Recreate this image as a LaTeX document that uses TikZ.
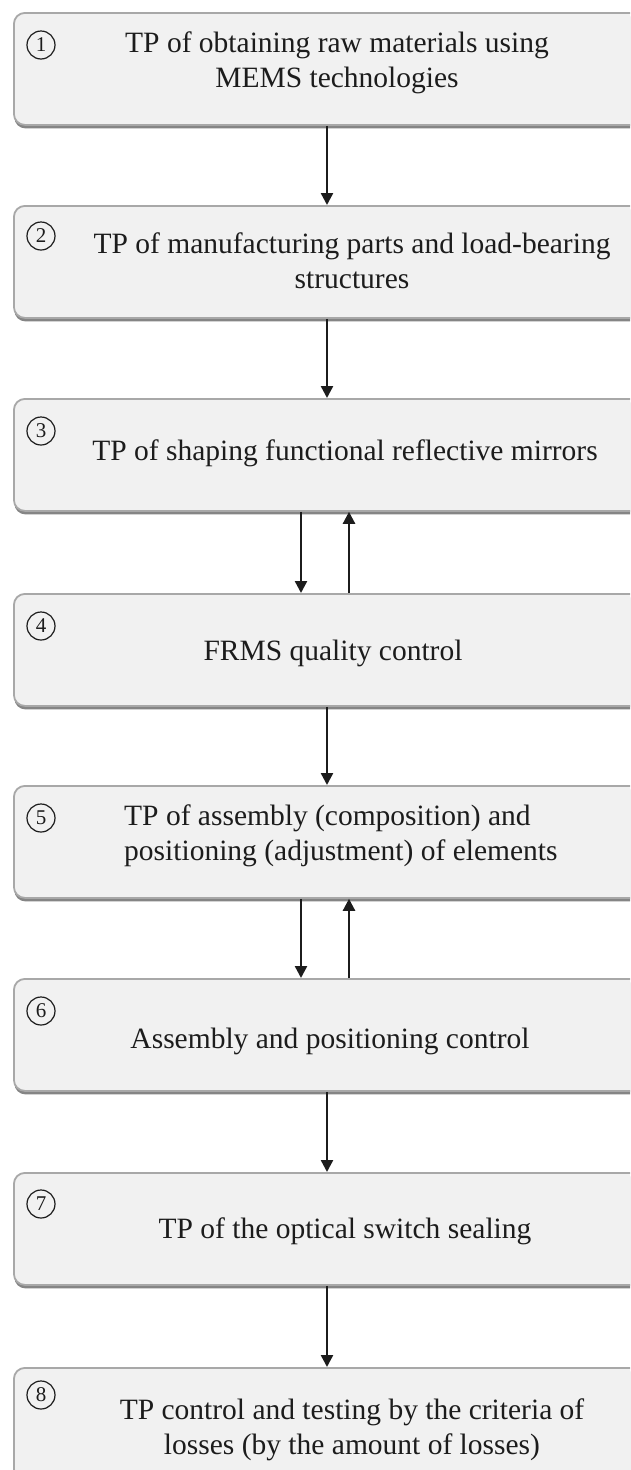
\documentclass[tikz,border=0pt]{standalone}
\usepackage{fontspec}
\setmainfont{Liberation Serif}
\usetikzlibrary{arrows.meta,shadows}
\definecolor{boxfill}{HTML}{F1F1F1}
\definecolor{boxline}{HTML}{A8A8A8}
\definecolor{shadowc}{HTML}{858585}
\definecolor{ink}{HTML}{1C1C1C}
\begin{document}
\begin{tikzpicture}[x=1pt,y=-1pt,
  stagebox/.style={draw=boxline, line width=1.8pt, fill=boxfill, rounded corners=11pt,
    minimum width=660pt, minimum height=112pt, anchor=north west, inner sep=0pt,
    drop shadow={shadow xshift=0.5pt, shadow yshift=-3.5pt, fill=shadowc, opacity=1}},
  stagetext/.style={font=\fontsize{29.5}{35}\selectfont, text=ink, align=center, inner sep=0pt},
  numc/.style={circle, draw=ink, line width=1.2pt, minimum size=28pt, inner sep=0pt,
    font=\fontsize{21}{21}\selectfont, text=ink},
  arr/.style={draw=ink, line width=2.4pt, -{Triangle[length=12pt,width=12pt]}}]
\useasboundingbox (0,0) rectangle (630,1470);
\clip (0,0) rectangle (630,1470);
\fill[white] (0,0) rectangle (630,1470);

\node[stagebox] (b1) at (13,12) {};
\node[stagebox] (b2) at (13,205) {};
\node[stagebox] (b3) at (13,398) {};
\node[stagebox] (b4) at (13,593) {};
\node[stagebox] (b5) at (13,785) {};
\node[stagebox] (b6) at (13,978) {};
\node[stagebox] (b7) at (13,1172) {};
\node[stagebox] (b8) at (13,1367) {};

\node[numc] (n1) at (41,45) {1};
\node[numc] (n2) at (41,236) {2};
\node[numc] (n3) at (41,431) {3};
\node[numc] (n4) at (41,626) {4};
\node[numc] (n5) at (41,818) {5};
\node[numc] (n6) at (41,1011) {6};
\node[numc] (n7) at (41,1204) {7};
\node[numc] (n8) at (41,1395) {8};

\node[stagetext] (t1) at (337,63) {TP of obtaining raw materials using\\MEMS technologies};
\node[stagetext] (t2) at (352,261) {TP of manufacturing parts and load-bearing\\structures};
\node[stagetext] (t3) at (345,453) {TP of shaping functional reflective mirrors};
\node[stagetext] (t4) at (333,653) {FRMS quality control};
\node[stagetext, align=left, anchor=west] (t5) at (124,836) {TP of assembly (composition) and\\positioning (adjustment) of elements};
\node[stagetext] (t6) at (330,1041) {Assembly and positioning control};
\node[stagetext] (t7) at (345,1231) {TP of the optical switch sealing};
\node[stagetext] (t8) at (352,1430) {TP control and testing by the criteria of\\losses (by the amount of losses)};

\coordinate (ax) at (327,0);
\coordinate (dx) at (301,0);
\coordinate (ux) at (349,0);

\draw[arr] (b1.south -| ax) -- (b2.north -| ax);
\draw[arr] (b2.south -| ax) -- (b3.north -| ax);
\draw[arr] (b3.south -| dx) -- (b4.north -| dx);
\draw[arr] (b4.north -| ux) -- (b3.south -| ux);
\draw[arr] (b4.south -| ax) -- (b5.north -| ax);
\draw[arr] (b5.south -| dx) -- (b6.north -| dx);
\draw[arr] (b6.north -| ux) -- (b5.south -| ux);
\draw[arr] (b6.south -| ax) -- (b7.north -| ax);
\draw[arr] (b7.south -| ax) -- (b8.north -| ax);
\end{tikzpicture}
\end{document}
